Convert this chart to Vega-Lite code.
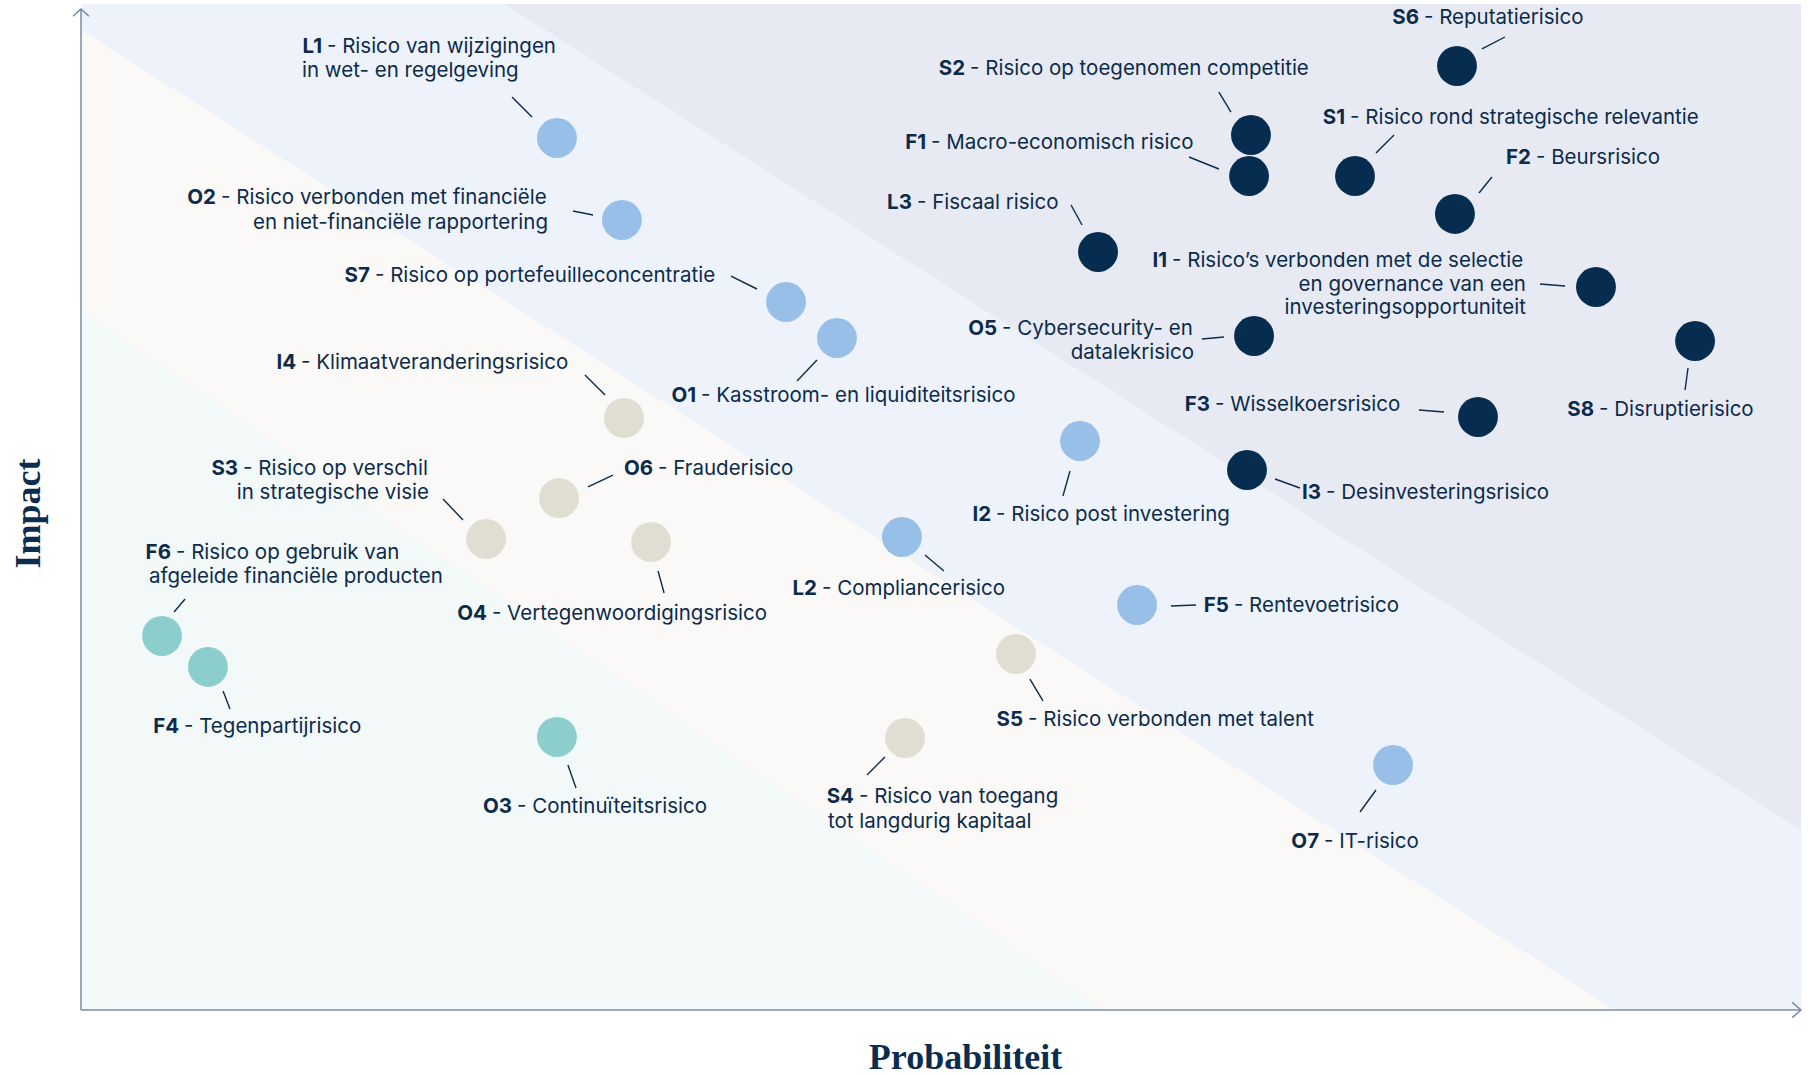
{
  "$schema": "https://vega.github.io/schema/vega-lite/v6.json",
  "width": 1720,
  "height": 1006,
  "autosize": {"type": "none"},
  "padding": {"left": 81, "top": 4, "right": 13, "bottom": 65},
  "background": "#FFFFFF",
  "view": {"fill": "#F3F8F9", "stroke": null},
  "config": {
    "text": {"font": "Inter", "fontSize": 20.5, "color": "#0C2B4B"},
    "axis": {"domain": false, "ticks": false, "labels": false, "grid": false,
      "titleFont": "Liberation Serif", "titleFontSize": 36, "titleFontWeight": "bold", "titleColor": "#0C2D50",
      "titleAlign": "center", "titleBaseline": "alphabetic"},
    "axisX": {"titleX": 884, "titleY": 58},
    "axisY": {"titleAngle": 270, "titleX": -42, "titleY": 509}
  },
  "datasets": {
    "zone_a": [{"p": 0, "v": 126.8}, {"p": 100, "v": 17.89}],
    "zone_b": [{"p": 0, "v": 97.42}, {"p": 100, "v": -11.81}],
    "zone_c": [{"p": 0, "v": 69.58}, {"p": 100, "v": -47.3}],
    "risicos": [
      {"code": "S6", "zone": "hoog", "prob": 80.0, "impact": 93.84},
      {"code": "S2", "zone": "hoog", "prob": 68.02, "impact": 86.98},
      {"code": "F1", "zone": "hoog", "prob": 67.91, "impact": 82.9},
      {"code": "S1", "zone": "hoog", "prob": 74.07, "impact": 82.9},
      {"code": "F2", "zone": "hoog", "prob": 79.88, "impact": 79.13},
      {"code": "L3", "zone": "hoog", "prob": 59.13, "impact": 75.35},
      {"code": "I1", "zone": "hoog", "prob": 88.08, "impact": 71.87},
      {"code": "O5", "zone": "hoog", "prob": 68.2, "impact": 67.0},
      {"code": "S8", "zone": "hoog", "prob": 93.84, "impact": 66.5},
      {"code": "F3", "zone": "hoog", "prob": 81.22, "impact": 58.95},
      {"code": "I3", "zone": "hoog", "prob": 67.79, "impact": 53.68},
      {"code": "L1", "zone": "verhoogd", "prob": 27.67, "impact": 86.68},
      {"code": "O2", "zone": "verhoogd", "prob": 31.45, "impact": 78.53},
      {"code": "S7", "zone": "verhoogd", "prob": 40.99, "impact": 70.38},
      {"code": "O1", "zone": "verhoogd", "prob": 43.95, "impact": 66.8},
      {"code": "I2", "zone": "verhoogd", "prob": 58.08, "impact": 56.56},
      {"code": "L2", "zone": "verhoogd", "prob": 47.73, "impact": 47.02},
      {"code": "F5", "zone": "verhoogd", "prob": 61.4, "impact": 40.26},
      {"code": "O7", "zone": "verhoogd", "prob": 76.28, "impact": 24.35},
      {"code": "I4", "zone": "gemiddeld", "prob": 31.57, "impact": 58.85},
      {"code": "O6", "zone": "gemiddeld", "prob": 27.79, "impact": 50.89},
      {"code": "S3", "zone": "gemiddeld", "prob": 23.55, "impact": 46.82},
      {"code": "O4", "zone": "gemiddeld", "prob": 33.14, "impact": 46.52},
      {"code": "S5", "zone": "gemiddeld", "prob": 54.36, "impact": 35.39},
      {"code": "S4", "zone": "gemiddeld", "prob": 47.91, "impact": 27.04},
      {"code": "F6", "zone": "laag", "prob": 4.71, "impact": 37.18},
      {"code": "F4", "zone": "laag", "prob": 7.38, "impact": 34.1},
      {"code": "O3", "zone": "laag", "prob": 27.67, "impact": 27.14}
    ],
    "labels": [
      {"code": "S6", "rest": "- Reputatierisico", "lx": 77.79, "ly": 98.61},
      {"code": "S2", "rest": "- Risico op toegenomen competitie", "lx": 51.4, "ly": 93.54},
      {"code": "S1", "rest": "- Risico rond strategische relevantie", "lx": 73.49, "ly": 88.67},
      {"code": "F1", "rest": "- Macro-economisch risico", "lx": 49.13, "ly": 86.18},
      {"code": "F2", "rest": "- Beursrisico", "lx": 84.3, "ly": 84.69},
      {"code": "L3", "rest": "- Fiscaal risico", "lx": 48.31, "ly": 80.22},
      {"code": "I1", "rest": "- Risico’s verbonden met de selectie", "lx": 63.14, "ly": 74.45},
      {"code": "O5", "rest": "- Cybersecurity- en", "lx": 53.26, "ly": 67.69},
      {"code": "S8", "rest": "- Disruptierisico", "lx": 87.97, "ly": 59.64},
      {"code": "F3", "rest": "- Wisselkoersrisico", "lx": 65.64, "ly": 60.14},
      {"code": "I3", "rest": "- Desinvesteringsrisico", "lx": 72.09, "ly": 51.39},
      {"code": "I2", "rest": "- Risico post investering", "lx": 52.91, "ly": 49.2},
      {"code": "L2", "rest": "- Compliancerisico", "lx": 42.79, "ly": 41.85},
      {"code": "F5", "rest": "- Rentevoetrisico", "lx": 66.74, "ly": 40.16},
      {"code": "S5", "rest": "- Risico verbonden met talent", "lx": 54.77, "ly": 28.83},
      {"code": "S4", "rest": "- Risico van toegang", "lx": 44.94, "ly": 21.17},
      {"code": "O7", "rest": "- IT-risico", "lx": 71.98, "ly": 16.7},
      {"code": "L1", "rest": "- Risico van wijzigingen", "lx": 14.01, "ly": 95.73},
      {"code": "O2", "rest": "- Risico verbonden met financiële", "lx": 7.85, "ly": 80.72},
      {"code": "S7", "rest": "- Risico op portefeuilleconcentratie", "lx": 16.8, "ly": 72.96},
      {"code": "I4", "rest": "- Klimaatveranderingsrisico", "lx": 12.5, "ly": 64.31},
      {"code": "O1", "rest": "- Kasstroom- en liquiditeitsrisico", "lx": 35.76, "ly": 61.03},
      {"code": "O6", "rest": "- Frauderisico", "lx": 33.26, "ly": 53.78},
      {"code": "S3", "rest": "- Risico op verschil", "lx": 9.13, "ly": 53.78},
      {"code": "F6", "rest": "- Risico op gebruik van", "lx": 5.23, "ly": 45.43},
      {"code": "O4", "rest": "- Vertegenwoordigingsrisico", "lx": 23.6, "ly": 39.36},
      {"code": "F4", "rest": "- Tegenpartijrisico", "lx": 5.7, "ly": 28.13},
      {"code": "O3", "rest": "- Continuïteitsrisico", "lx": 25.06, "ly": 20.18}
    ],
    "regels_rechts": [
      {"tekst": "en governance van een", "lx": 84.01, "ly": 72.07},
      {"tekst": "investeringsopportuniteit", "lx": 84.01, "ly": 69.78},
      {"tekst": "datalekrisico", "lx": 64.71, "ly": 65.31},
      {"tekst": "en niet-financiële rapportering", "lx": 27.15, "ly": 78.23},
      {"tekst": "in strategische visie", "lx": 20.23, "ly": 51.39}
    ],
    "regels_links": [
      {"tekst": "in wet- en regelgeving", "lx": 12.85, "ly": 93.34},
      {"tekst": "afgeleide financiële producten", "lx": 3.95, "ly": 43.04},
      {"tekst": "tot langdurig kapitaal", "lx": 43.43, "ly": 18.69}
    ],
    "leiders": [
      {"code": "L1", "x1": 25.06, "y1": 90.76, "x2": 26.22, "y2": 88.77},
      {"code": "O2", "x1": 28.6, "y1": 79.42, "x2": 29.77, "y2": 79.03},
      {"code": "S7", "x1": 37.79, "y1": 72.96, "x2": 39.3, "y2": 71.67},
      {"code": "I4", "x1": 29.3, "y1": 63.12, "x2": 30.47, "y2": 61.13},
      {"code": "O1", "x1": 41.63, "y1": 62.52, "x2": 42.79, "y2": 64.61},
      {"code": "S2", "x1": 66.16, "y1": 91.25, "x2": 66.86, "y2": 89.26},
      {"code": "S6", "x1": 81.45, "y1": 95.53, "x2": 82.79, "y2": 96.72},
      {"code": "S1", "x1": 75.29, "y1": 85.19, "x2": 76.34, "y2": 86.98},
      {"code": "F1", "x1": 64.42, "y1": 84.79, "x2": 66.16, "y2": 83.6},
      {"code": "F2", "x1": 81.28, "y1": 81.21, "x2": 82.03, "y2": 82.8},
      {"code": "L3", "x1": 57.56, "y1": 80.02, "x2": 58.2, "y2": 78.03},
      {"code": "I1", "x1": 84.83, "y1": 72.17, "x2": 86.28, "y2": 71.97},
      {"code": "O5", "x1": 65.17, "y1": 66.7, "x2": 66.45, "y2": 66.9},
      {"code": "F3", "x1": 77.79, "y1": 59.64, "x2": 79.24, "y2": 59.44},
      {"code": "S8", "x1": 93.43, "y1": 63.82, "x2": 93.26, "y2": 61.63},
      {"code": "I3", "x1": 69.42, "y1": 52.78, "x2": 70.87, "y2": 51.89},
      {"code": "I2", "x1": 57.5, "y1": 53.58, "x2": 57.09, "y2": 51.09},
      {"code": "L2", "x1": 49.07, "y1": 45.23, "x2": 50.17, "y2": 43.64},
      {"code": "F5", "x1": 63.37, "y1": 40.16, "x2": 64.83, "y2": 40.26},
      {"code": "S5", "x1": 55.17, "y1": 32.9, "x2": 55.93, "y2": 30.72},
      {"code": "S4", "x1": 45.7, "y1": 23.36, "x2": 46.74, "y2": 25.15},
      {"code": "O7", "x1": 74.36, "y1": 19.68, "x2": 75.29, "y2": 21.87},
      {"code": "O6", "x1": 29.48, "y1": 51.99, "x2": 30.93, "y2": 53.18},
      {"code": "S3", "x1": 21.05, "y1": 50.8, "x2": 22.21, "y2": 48.71},
      {"code": "F6", "x1": 6.05, "y1": 40.85, "x2": 5.41, "y2": 39.56},
      {"code": "O4", "x1": 33.55, "y1": 43.64, "x2": 33.9, "y2": 41.45},
      {"code": "F4", "x1": 8.26, "y1": 31.71, "x2": 8.66, "y2": 29.92},
      {"code": "O3", "x1": 28.31, "y1": 24.35, "x2": 28.78, "y2": 22.07}
    ]
  },
  "layer": [
    {
      "data": {"name": "zone_c"},
      "mark": {"type": "area", "clip": true, "color": "#FAF9F7"},
      "encoding": {
        "x": {"field": "p", "type": "quantitative", "title": "Probabiliteit", "scale": {"domain": [0, 100], "nice": false, "zero": false}},
        "y": {"field": "v", "type": "quantitative", "title": "Impact", "scale": {"domain": [0, 100], "nice": false, "zero": false}},
        "y2": {"datum": 100}
      }
    },
    {
      "data": {"name": "zone_b"},
      "mark": {"type": "area", "clip": true, "color": "#EEF3FB"},
      "encoding": {
        "x": {"field": "p", "type": "quantitative", "title": "Probabiliteit", "scale": {"domain": [0, 100], "nice": false, "zero": false}},
        "y": {"field": "v", "type": "quantitative", "title": "Impact", "scale": {"domain": [0, 100], "nice": false, "zero": false}},
        "y2": {"datum": 100}
      }
    },
    {
      "data": {"name": "zone_a"},
      "mark": {"type": "area", "clip": true, "color": "#E7EAF3"},
      "encoding": {
        "x": {"field": "p", "type": "quantitative", "title": "Probabiliteit", "scale": {"domain": [0, 100], "nice": false, "zero": false}},
        "y": {"field": "v", "type": "quantitative", "title": "Impact", "scale": {"domain": [0, 100], "nice": false, "zero": false}},
        "y2": {"datum": 100}
      }
    },
    {
      "data": {"values": [{}]},
      "mark": {"type": "rule", "color": "#7A8CA2", "strokeWidth": 1.5},
      "encoding": {
        "x": {"datum": 0, "type": "quantitative", "title": "Probabiliteit", "scale": {"domain": [0, 100], "nice": false, "zero": false}},
        "x2": {"datum": 100},
        "y": {"datum": 0, "type": "quantitative", "title": "Impact", "scale": {"domain": [0, 100], "nice": false, "zero": false}}
      }
    },
    {
      "data": {"values": [{}]},
      "mark": {"type": "rule", "color": "#7A8CA2", "strokeWidth": 1.5},
      "encoding": {
        "x": {"datum": 0, "type": "quantitative", "title": "Probabiliteit", "scale": {"domain": [0, 100], "nice": false, "zero": false}},
        "y": {"datum": 0, "type": "quantitative", "title": "Impact", "scale": {"domain": [0, 100], "nice": false, "zero": false}},
        "y2": {"datum": 99.5}
      }
    },
    {
      "data": {"values": [{}]},
      "mark": {"type": "point", "shape": "M-1,0.9L0,0L1,0.9", "filled": false, "size": 256, "stroke": "#7A8CA2", "strokeWidth": 1.5, "opacity": 1},
      "encoding": {
        "x": {"datum": 0, "type": "quantitative", "title": "Probabiliteit", "scale": {"domain": [0, 100], "nice": false, "zero": false}},
        "y": {"datum": 99.5, "type": "quantitative", "title": "Impact", "scale": {"domain": [0, 100], "nice": false, "zero": false}}
      }
    },
    {
      "data": {"values": [{}]},
      "mark": {"type": "point", "shape": "M-1.1,-0.95L0,0L-1.1,0.95", "filled": false, "size": 256, "stroke": "#7A8CA2", "strokeWidth": 1.5, "opacity": 1},
      "encoding": {
        "x": {"datum": 100, "type": "quantitative", "title": "Probabiliteit", "scale": {"domain": [0, 100], "nice": false, "zero": false}},
        "y": {"datum": 0, "type": "quantitative", "title": "Impact", "scale": {"domain": [0, 100], "nice": false, "zero": false}}
      }
    },
    {
      "data": {"name": "leiders"},
      "mark": {"type": "rule", "color": "#0C2B4B", "strokeWidth": 1.4},
      "encoding": {
        "x": {"field": "x1", "type": "quantitative", "title": "Probabiliteit", "scale": {"domain": [0, 100], "nice": false, "zero": false}},
        "y": {"field": "y1", "type": "quantitative", "title": "Impact", "scale": {"domain": [0, 100], "nice": false, "zero": false}},
        "x2": {"field": "x2"},
        "y2": {"field": "y2"}
      }
    },
    {
      "data": {"name": "risicos"},
      "mark": {"type": "point", "shape": "circle", "filled": true, "size": 1590, "opacity": 1, "strokeWidth": 0},
      "encoding": {
        "x": {"field": "prob", "type": "quantitative", "title": "Probabiliteit", "scale": {"domain": [0, 100], "nice": false, "zero": false}},
        "y": {"field": "impact", "type": "quantitative", "title": "Impact", "scale": {"domain": [0, 100], "nice": false, "zero": false}},
        "color": {"field": "zone", "type": "nominal", "legend": null,
          "scale": {"domain": ["hoog", "verhoogd", "gemiddeld", "laag"], "range": ["#062D50", "#97BFE8", "#E0DED3", "#8CCECB"]}}
      }
    },
    {
      "data": {"name": "labels"},
      "mark": {"type": "text", "align": "right", "baseline": "middle", "fontWeight": "bold"},
      "encoding": {
        "x": {"field": "lx", "type": "quantitative", "title": "Probabiliteit", "scale": {"domain": [0, 100], "nice": false, "zero": false}},
        "y": {"field": "ly", "type": "quantitative", "title": "Impact", "scale": {"domain": [0, 100], "nice": false, "zero": false}},
        "text": {"field": "code"}
      }
    },
    {
      "data": {"name": "labels"},
      "mark": {"type": "text", "align": "left", "baseline": "middle", "dx": 5},
      "encoding": {
        "x": {"field": "lx", "type": "quantitative", "title": "Probabiliteit", "scale": {"domain": [0, 100], "nice": false, "zero": false}},
        "y": {"field": "ly", "type": "quantitative", "title": "Impact", "scale": {"domain": [0, 100], "nice": false, "zero": false}},
        "text": {"field": "rest"}
      }
    },
    {
      "data": {"name": "regels_rechts"},
      "mark": {"type": "text", "align": "right", "baseline": "middle"},
      "encoding": {
        "x": {"field": "lx", "type": "quantitative", "title": "Probabiliteit", "scale": {"domain": [0, 100], "nice": false, "zero": false}},
        "y": {"field": "ly", "type": "quantitative", "title": "Impact", "scale": {"domain": [0, 100], "nice": false, "zero": false}},
        "text": {"field": "tekst"}
      }
    },
    {
      "data": {"name": "regels_links"},
      "mark": {"type": "text", "align": "left", "baseline": "middle"},
      "encoding": {
        "x": {"field": "lx", "type": "quantitative", "title": "Probabiliteit", "scale": {"domain": [0, 100], "nice": false, "zero": false}},
        "y": {"field": "ly", "type": "quantitative", "title": "Impact", "scale": {"domain": [0, 100], "nice": false, "zero": false}},
        "text": {"field": "tekst"}
      }
    }
  ]
}
